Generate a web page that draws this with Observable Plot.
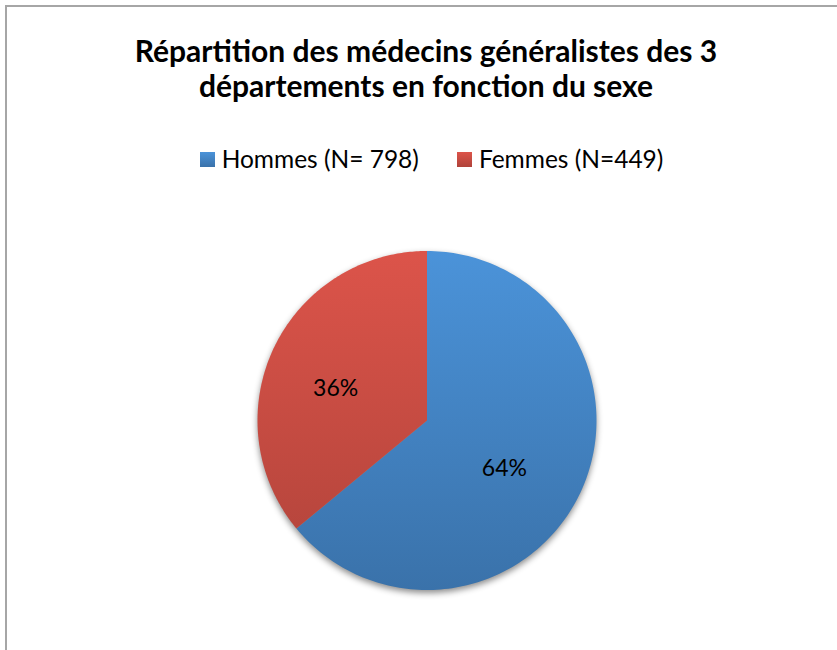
<!DOCTYPE html>
<html>
<head>
<meta charset="utf-8">
<script src="https://cdn.jsdelivr.net/npm/d3@7"></script>
<script src="https://cdn.jsdelivr.net/npm/@observablehq/plot@0.6"></script>
<style>
  body { margin: 0; background: #fff; }
  #wrap { position: relative; width: 837px; height: 650px; overflow: hidden; font-family: Lato, "Open Sans", sans-serif; color: #000; }
  #frame { position: absolute; left: 5px; top: 5px; width: 900px; height: 700px; border-left: 2px solid #a6a6a6; border-top: 2px solid #a6a6a6; }
  #plot { position: absolute; left: 0; top: 0; }
  #title { position: absolute; left: 0; width: 852px; top: 33px; text-align: center; font-weight: bold; font-size: 30px; line-height: 35px; }
  #legend { position: absolute; left: 0; width: 863px; top: 146px; display: flex; justify-content: center; gap: 38px; font-size: 24.5px; line-height: 26px; }
  .item { display: flex; align-items: center; gap: 7px; }
  .sw { width: 15px; height: 15px; }
</style>
</head>
<body>
<div id="wrap">
  <div id="plot"></div>
  <div id="frame"></div>
  <div id="title"></div>
  <div id="legend"></div>
</div>
<script>
// ---- data ----
const sexes = ["Hommes", "Femmes"];
const counts = [798, 449];
const percentLabels = ["64%", "36%"];
const legendLabels = ["Hommes (N= 798)", "Femmes (N=449)"];
const titleLines = ["Répartition des médecins généralistes des 3", "départements en fonction du sexe"];
const topColors = ["#4b93d9", "#dc544a"];
const bottomColors = ["#3a72aa", "#b0433a"];

// ---- geometry from data (unit circle) ----
const arcs = d3.pie().sort(null).startAngle(0).endAngle(2 * Math.PI)(counts);
const slicePoints = [];
arcs.forEach((a, i) => {
  const steps = 180;
  slicePoints.push({slice: sexes[i], x: 0, y: 0});
  for (let k = 0; k <= steps; k++) {
    const t = a.startAngle + (a.endAngle - a.startAngle) * k / steps;
    slicePoints.push({slice: sexes[i], x: Math.sin(t), y: Math.cos(t)});
  }
  slicePoints.push({slice: sexes[i], x: 0, y: 0});
});
const labelRows = arcs.map((a, i) => {
  const m = (a.startAngle + a.endAngle) / 2;
  return {slice: sexes[i], text: percentLabels[i], x: 0.55 * Math.sin(m), y: 0.55 * Math.cos(m)};
});

const svg = Plot.plot({
  width: 837,
  height: 650,
  margin: 0,
  style: {background: "transparent", fontFamily: "Lato, 'Open Sans', sans-serif"},
  x: {domain: [-1, 1], range: [257, 596], axis: null},
  y: {domain: [-1, 1], range: [589.5, 250.5], axis: null},
  color: {domain: sexes, range: sexes.map((s, i) => `url(#grad-${i})`)},
  marks: [
    Plot.line(slicePoints, {x: "x", y: "y", z: "slice", fill: "slice", stroke: "none", curve: "linear"}),
    Plot.text(labelRows, {x: "x", y: "y", text: "text", fontSize: 23, dx: -7, dy: 8, fill: "#000"})
  ]
});

// gradients spanning the pie's bounding box
const ys = svg.scale("y");
const defs = d3.select(svg).insert("defs", ":first-child");
sexes.forEach((s, i) => {
  const g = defs.append("linearGradient")
    .attr("id", `grad-${i}`)
    .attr("gradientUnits", "userSpaceOnUse")
    .attr("x1", 0).attr("x2", 0)
    .attr("y1", ys.apply(1)).attr("y2", ys.apply(-1));
  g.append("stop").attr("offset", "0%").attr("stop-color", topColors[i]);
  g.append("stop").attr("offset", "100%").attr("stop-color", bottomColors[i]);
});
d3.select(svg).select('g[aria-label="line"]').style("filter", "drop-shadow(0px 3px 3px rgba(0,0,0,0.45))");

document.getElementById("plot").appendChild(svg);

// title
const title = document.getElementById("title");
titleLines.forEach(t => { const d = document.createElement("div"); d.textContent = t; title.appendChild(d); });

// legend
const legend = document.getElementById("legend");
legendLabels.forEach((t, i) => {
  const item = document.createElement("div");
  item.className = "item";
  const sw = document.createElement("div");
  sw.className = "sw";
  sw.style.background = `linear-gradient(${topColors[i]}, ${bottomColors[i]})`;
  const lab = document.createElement("span");
  lab.textContent = t;
  item.appendChild(sw); item.appendChild(lab);
  legend.appendChild(item);
});
</script>
</body>
</html>
